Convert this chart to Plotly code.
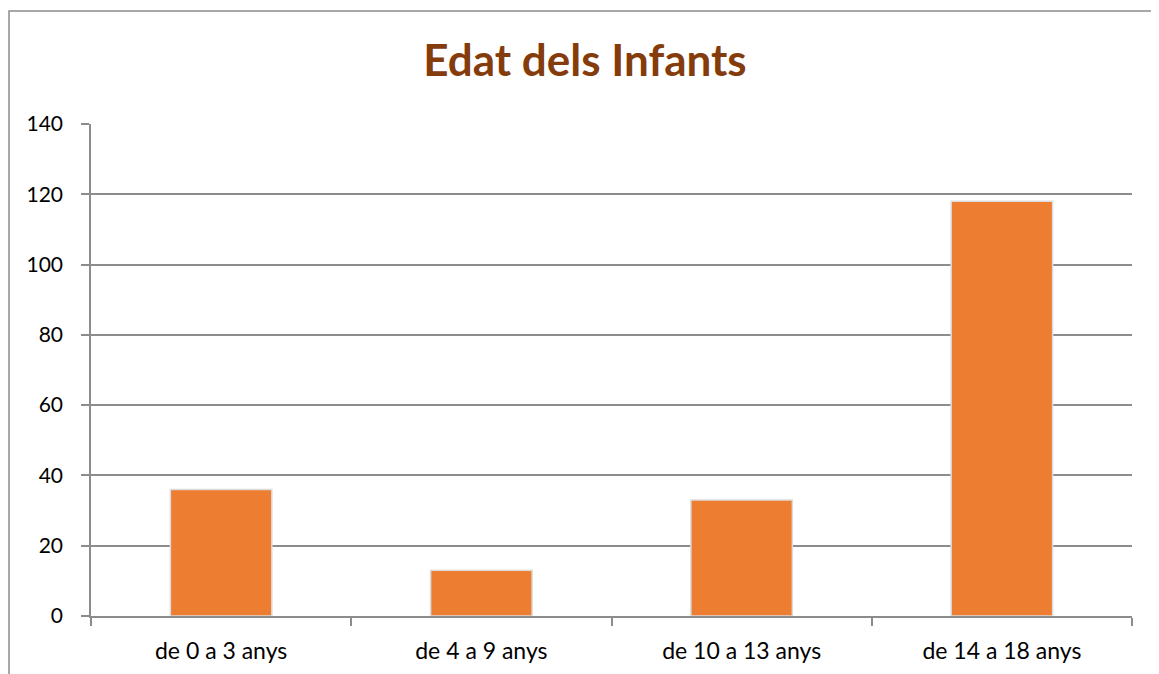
import plotly.graph_objects as go

categories = ["de 0 a 3 anys", "de 4 a 9 anys", "de 10 a 13 anys", "de 14 a 18 anys"]
values = [36, 13, 33, 118]
y_ticks = [0, 20, 40, 60, 80, 100, 120, 140]
title_text = "Edat dels Infants"

# page has an 8px body margin, so figure coordinates = page coordinates - 8
OFF = 8
W, H = 1159, 674
ml, mt = 91 - OFF, 124 - OFF
mr = W - (1132 - OFF)
mb = H - (616 - OFF)
pw = W - ml - mr
ph = H - mt - mb

fig = go.Figure()
fig.add_trace(go.Bar(
    x=categories, y=values,
    marker=dict(color="#ED7D31", line=dict(color="#dcdcdc", width=1.5)),
    width=0.39,
))

fig.update_layout(
    width=W, height=H,
    margin=dict(l=ml, r=mr, t=mt, b=mb),
    paper_bgcolor="white", plot_bgcolor="white",
    font=dict(family="Lato, Carlito, sans-serif", color="#000000", size=23),
    showlegend=False,
    title=dict(text="<b>" + title_text + "</b>", x=(585 - OFF) / W, xref="container", xanchor="center",
               y=1 - (61 - OFF) / H, yref="container", yanchor="middle",
               font=dict(family="Lato, sans-serif", size=44, color="#843C0C")),
    xaxis=dict(
        showline=True, linecolor="#8c8c8c", linewidth=1.5,
        ticks="outside", tickson="boundaries", ticklen=8, tickcolor="#8c8c8c", tickwidth=1.5,
        showgrid=False, tickfont=dict(size=23), ticklabelstandoff=14,
    ),
    yaxis=dict(
        range=[0, 140], tickvals=y_ticks,
        showline=True, linecolor="#8c8c8c", linewidth=1.5,
        ticks="outside", ticklen=8, tickcolor="#8c8c8c", tickwidth=1.5,
        showgrid=True, gridcolor="#8c8c8c", gridwidth=1.5,
        tickfont=dict(size=21), ticklabelstandoff=14, zeroline=False,
    ),
)

# outer chart border (extends beyond the visible page at right and bottom)
fig.add_shape(type="rect", xref="paper", yref="paper",
              x0=(9 - OFF - ml) / pw, x1=(W + 20 - ml) / pw,
              y0=-(H + 20 - mt - ph) / ph, y1=(H - mb - (11 - OFF)) / ph,
              line=dict(color="#8c8c8c", width=1.5), fillcolor="rgba(0,0,0,0)", layer="below")

fig.write_html("out.html")
